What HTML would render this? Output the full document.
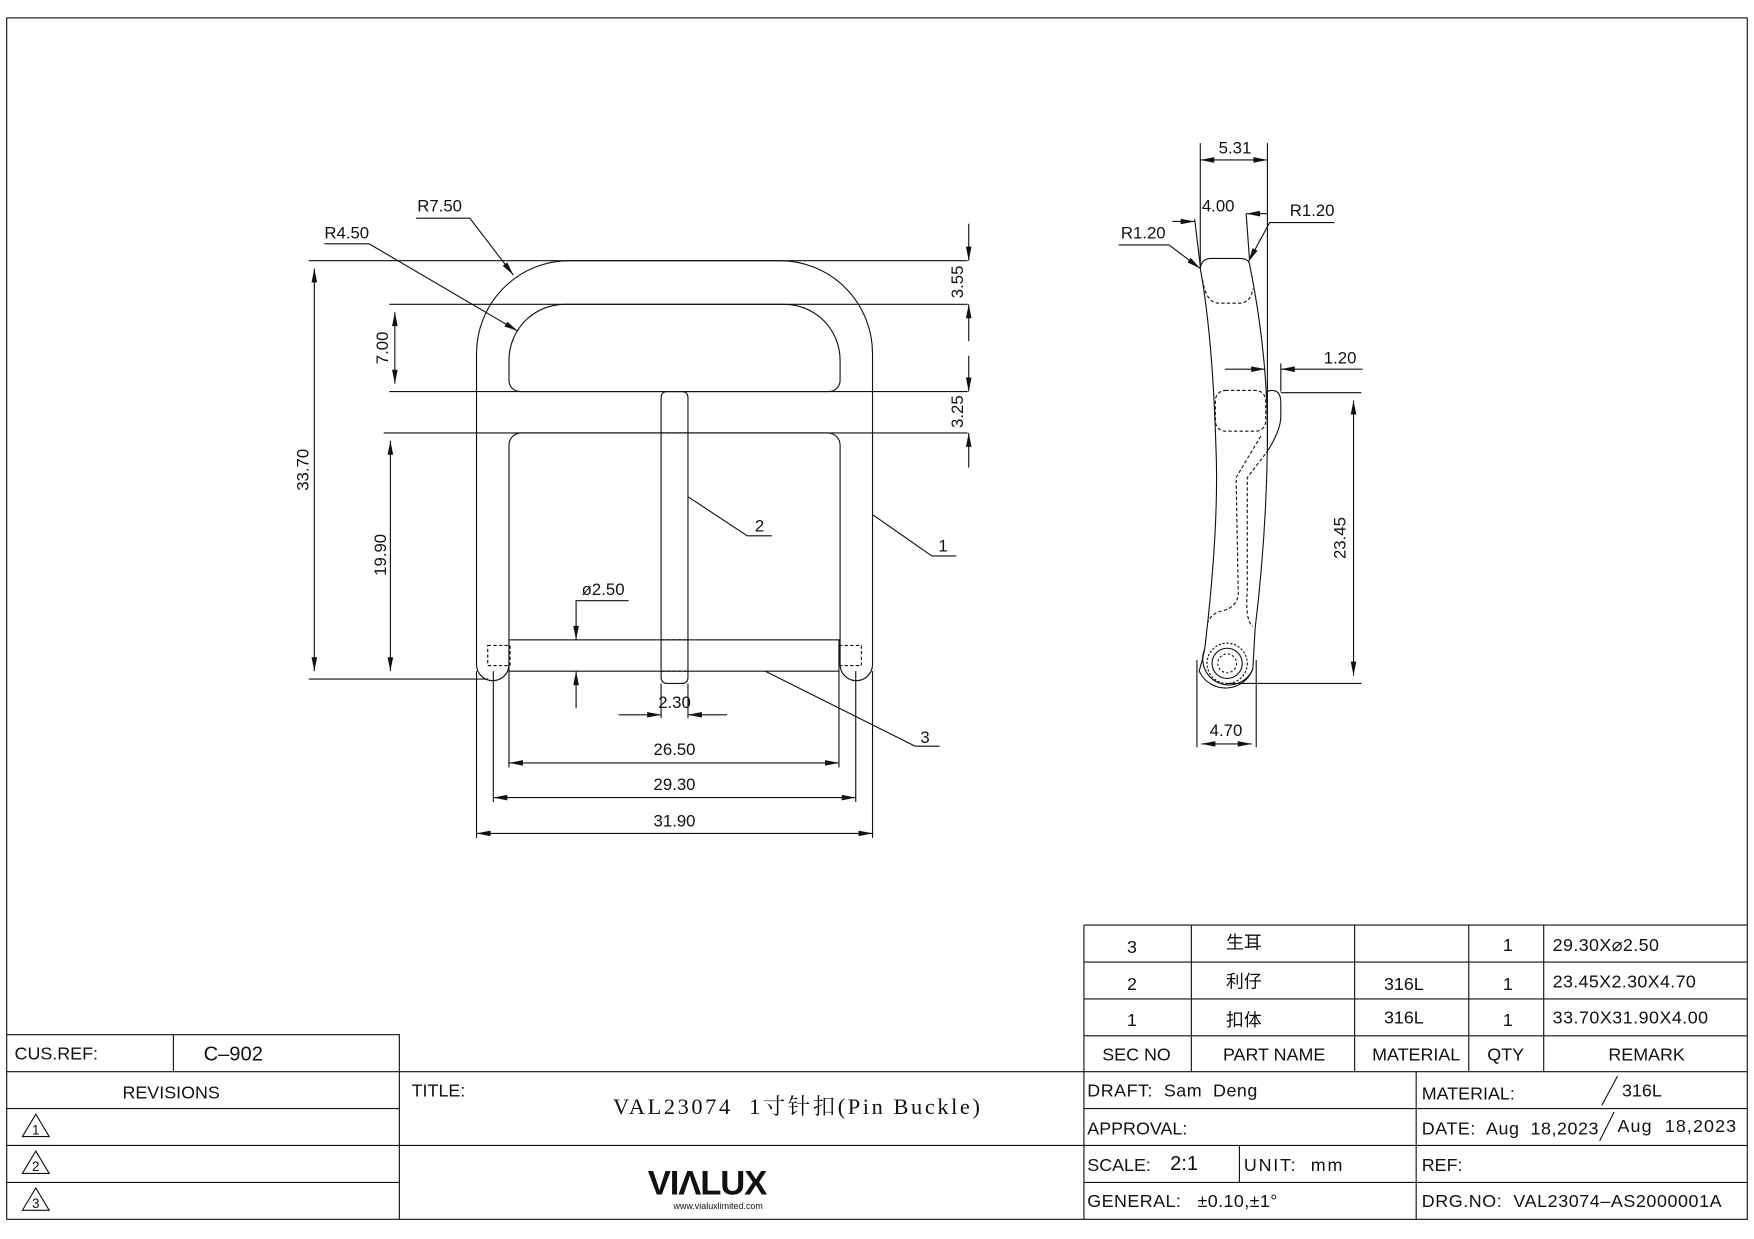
<!DOCTYPE html>
<html><head><meta charset="utf-8"><style>
html,body{margin:0;padding:0;background:#fff;}
svg{display:block;}
text{font-family:"Liberation Sans","Noto Sans CJK SC",sans-serif;fill:#111;white-space:pre;}
.d{font-size:15px;}
.t{font-size:16px;}
</style></head><body>
<svg width="1754" height="1239" viewBox="0 0 1568 1107.6" preserveAspectRatio="none" xmlns="http://www.w3.org/2000/svg" xml:space="preserve">
<defs>
<marker id="a" viewBox="0 0 10 4" refX="10" refY="2" markerWidth="14" markerHeight="5" markerUnits="userSpaceOnUse" orient="auto-start-reverse"><path d="M0,0 L10,2 L0,4 z" fill="#111"/></marker>
</defs>
<g fill="none" stroke="#111" stroke-width="1">
<rect x="6" y="16" width="1556" height="1074"/>
<path d="M6 925 H357 V1090 M155 925 V958 M6 958 H1562 M6 991 H357 M6 1024 H357 M6 1057 H357 M357 958 V1090 M357 1024 H969"/>
<path d="M969 827 H1562 M969 827 V1090 M969 860 H1562 M969 893 H1562 M969 926 H1562 M1065 827 V958 M1211 827 V958 M1313 827 V958 M1380 827 V958"/>
<path d="M969 991 H1562 M969 1024 H1562 M969 1057 H1562 M1266 958 V1090 M1108 1024 V1057"/>
<path d="M1446 962 L1432 988 M1443 994 L1430 1020"/>
<path d="M20 1016 L32 996 L44 1016 Z M20 1049 L32 1029 L44 1049 Z M20 1082 L32 1062 L44 1082 Z"/>

<path d="M426 594 V316 A83 83 0 0 1 509 233 H697 A83 83 0 0 1 780 316 V594 A14.5 14.5 0 0 1 751 594 V398 A11 11 0 0 0 740 387 H466 A11 11 0 0 0 455 398 V594 A14.5 14.5 0 0 1 426 594 Z"/>
<path d="M455 322 A50 50 0 0 1 505 272 H701 A50 50 0 0 1 751 322 V340 A10 10 0 0 1 741 350 H465 A10 10 0 0 1 455 340 Z"/>
<rect x="455" y="572" width="295" height="28"/>
<rect x="591" y="350" width="24" height="261" rx="5"/>
<g stroke-dasharray="3,2"><rect x="436" y="577" width="20" height="18"/><rect x="750" y="577" width="20" height="18"/><path d="M591 387 H615 M591 572 H615 M591 600 H615"/></g>
<path d="M276 233 H865 M276 607 H436 M343 387 H865 M348 272 H865 M348 350 H865"/>
<path d="M281 240 V600" marker-start="url(#a)" marker-end="url(#a)"/>
<path d="M349 394 V600" marker-start="url(#a)" marker-end="url(#a)"/>
<path d="M353 279 V343" marker-start="url(#a)" marker-end="url(#a)"/>
<path d="M866 200 V233" marker-end="url(#a)"/>
<path d="M866 305 V272" marker-end="url(#a)"/>
<path d="M866 318 V350" marker-end="url(#a)"/>
<path d="M866 418 V387" marker-end="url(#a)"/>
<path d="M455 600 V686 M750 600 V686 M441 600 V717 M765 600 V717 M426 600 V749 M780 600 V749"/>
<path d="M455 682 H750" marker-start="url(#a)" marker-end="url(#a)"/>
<path d="M441 713 H765" marker-start="url(#a)" marker-end="url(#a)"/>
<path d="M426 745 H780" marker-start="url(#a)" marker-end="url(#a)"/>
<path d="M562 537 H515 V572" marker-end="url(#a)"/>
<path d="M515 633 V600" marker-end="url(#a)"/>
<path d="M553 639 H591" marker-end="url(#a)"/>
<path d="M650 639 H615" marker-end="url(#a)"/>
<path d="M591 611 V642 M615 611 V642"/>
<path d="M372 195 H420 L459 246" marker-end="url(#a)"/>
<path d="M290 218 H330 L463 296" marker-end="url(#a)"/>
<path d="M780 460 L833 497 H855 M615 444 L668 479 H690 M684 600 L818 667 H840"/>

<path d="M1073 240 Q1074 231 1083 231 H1108 Q1116 231 1117 236 Q1134 320 1133 398 Q1132 480 1122 562 L1120 598 A26 26 0 0 1 1072 600 Q1075 590 1077 580 Q1090 470 1087 400 Q1084 300 1073 240 Z"/>
<path d="M1077 580 A20 20 0 0 0 1120 598"/>
<circle cx="1097" cy="593" r="13.5"/>
<circle cx="1097" cy="593" r="8.4" stroke-dasharray="2,2"/>
<circle cx="1097" cy="593" r="18" stroke-dasharray="2,1.5"/>
<path d="M1132 353 Q1132 349 1137 349 Q1145 349 1145 360 V372 Q1145 385 1132 405"/>
<g stroke-dasharray="3,2">
<path d="M1075 250 Q1078 271 1090 271 H1108 Q1118 271 1120 258"/>
<rect x="1086.5" y="349" width="45" height="36.5" rx="9"/>
<path d="M1127 390 L1105 427 L1107 532 Q1105 543 1093 546 Q1083 548 1080 556"/>
<path d="M1131 406 L1115 427 L1115 528 Q1113 555 1120 560"/>
</g>
<path d="M1073 128 V240 M1133 128 V398"/>
<path d="M1104 143 H1073" marker-end="url(#a)"/>
<path d="M1104 143 H1133" marker-end="url(#a)"/>
<path d="M1068 196 L1073 238 M1114 191 L1117 232"/>
<path d="M1048 198 H1068" marker-end="url(#a)"/>
<path d="M1133 191 H1114" marker-end="url(#a)"/>
<path d="M1000 219 H1045 L1073 240" marker-end="url(#a)"/>
<path d="M1193 199 H1135 L1116 234" marker-end="url(#a)"/>
<path d="M1095 330 H1131" marker-end="url(#a)"/>
<path d="M1218 330 H1145" marker-end="url(#a)"/>
<path d="M1145 325 V350 M1145 351 H1217 M1097 611 H1217"/>
<path d="M1210 358 V604" marker-start="url(#a)" marker-end="url(#a)"/>
<path d="M1070 590 V668 M1123 590 V668"/>
<path d="M1074 665 H1119" marker-start="url(#a)" marker-end="url(#a)"/>
</g>

<text class="d" x="373" y="189">R7.50</text>
<text class="d" x="290" y="213">R4.50</text>
<text class="d" transform="translate(276,420) rotate(-90)" text-anchor="middle">33.70</text>
<text class="d" transform="translate(345,496) rotate(-90)" text-anchor="middle">19.90</text>
<text class="d" transform="translate(347,311) rotate(-90)" text-anchor="middle">7.00</text>
<text class="d" transform="translate(861,252) rotate(-90)" text-anchor="middle">3.55</text>
<text class="d" transform="translate(861,368) rotate(-90)" text-anchor="middle">3.25</text>
<text class="d" x="520" y="532">ø2.50</text>
<text class="d" x="603" y="633" text-anchor="middle">2.30</text>
<text class="d" x="603" y="675" text-anchor="middle">26.50</text>
<text class="d" x="603" y="706" text-anchor="middle">29.30</text>
<text class="d" x="603" y="739" text-anchor="middle">31.90</text>
<text class="d" x="843" y="493" text-anchor="middle">1</text>
<text class="d" x="679" y="475" text-anchor="middle">2</text>
<text class="d" x="827" y="664" text-anchor="middle">3</text>
<text class="d" x="1104" y="137" text-anchor="middle">5.31</text>
<text class="d" x="1089" y="189" text-anchor="middle">4.00</text>
<text class="d" x="1022" y="213" text-anchor="middle">R1.20</text>
<text class="d" x="1173" y="193" text-anchor="middle">R1.20</text>
<text class="d" x="1198" y="325" text-anchor="middle">1.20</text>
<text class="d" transform="translate(1203,481) rotate(-90)" text-anchor="middle">23.45</text>
<text class="d" x="1096" y="658" text-anchor="middle">4.70</text>

<g class="t" font-size="15">
<text x="1012" y="852" text-anchor="middle">3</text>
<text x="1112" y="848" text-anchor="middle">生耳</text>
<text x="1348" y="850" text-anchor="middle">1</text>
<text x="1388" y="850" textLength="95">29.30X⌀2.50</text>
<text x="1012" y="885" text-anchor="middle">2</text>
<text x="1112" y="883" text-anchor="middle">利仔</text>
<text x="1255" y="885" text-anchor="middle">316L</text>
<text x="1348" y="885" text-anchor="middle">1</text>
<text x="1388" y="883" textLength="128">23.45X2.30X4.70</text>
<text x="1012" y="917" text-anchor="middle">1</text>
<text x="1112" y="917" text-anchor="middle">扣体</text>
<text x="1255" y="915" text-anchor="middle">316L</text>
<text x="1348" y="917" text-anchor="middle">1</text>
<text x="1388" y="915" textLength="139">33.70X31.90X4.00</text>
<text x="1016" y="948" text-anchor="middle">SEC NO</text>
<text x="1139" y="948" text-anchor="middle">PART NAME</text>
<text x="1266" y="948" text-anchor="middle">MATERIAL</text>
<text x="1346" y="948" text-anchor="middle">QTY</text>
<text x="1472" y="948" text-anchor="middle">REMARK</text>
</g>
<g class="t">
<text x="13" y="947">CUS.REF:</text>
<text x="182" y="948" font-size="18">C–902</text>
<text x="153" y="982" text-anchor="middle">REVISIONS</text>
<text x="32" y="1014" text-anchor="middle" font-size="12">1</text>
<text x="32" y="1047" text-anchor="middle" font-size="12">2</text>
<text x="32" y="1080" text-anchor="middle" font-size="12">3</text>
<text x="368" y="980">TITLE:</text>
<text x="548" y="996" font-size="20" textLength="328" style="font-family:'Liberation Serif','Noto Serif CJK SC',serif">VAL23074  1寸针扣(Pin Buckle)</text>
<text x="972" y="980" textLength="152">DRAFT:  Sam  Deng</text>
<text x="1271" y="983">MATERIAL:</text>
<text x="1450" y="980">316L</text>
<text x="972" y="1014">APPROVAL:</text>
<text x="1271" y="1014" textLength="158">DATE:  Aug  18,2023</text>
<text x="1446" y="1012" textLength="106">Aug  18,2023</text>
<text x="972" y="1047">SCALE:</text>
<text x="1046" y="1046" font-size="18">2:1</text>
<text x="1112" y="1047" textLength="88">UNIT:  mm</text>
<text x="1271" y="1047">REF:</text>
<text x="972" y="1079" textLength="170">GENERAL:   ±0.10,±1°</text>
<text x="1271" y="1079" textLength="268">DRG.NO:  VAL23074–AS2000001A</text>
</g>
<text x="632" y="1068" text-anchor="middle" font-size="31" font-weight="bold" letter-spacing="-1">VIΛLUX</text>
<text x="642" y="1081" text-anchor="middle" font-size="8">www.vialuxlimited.com</text>
</svg>
</body></html>
